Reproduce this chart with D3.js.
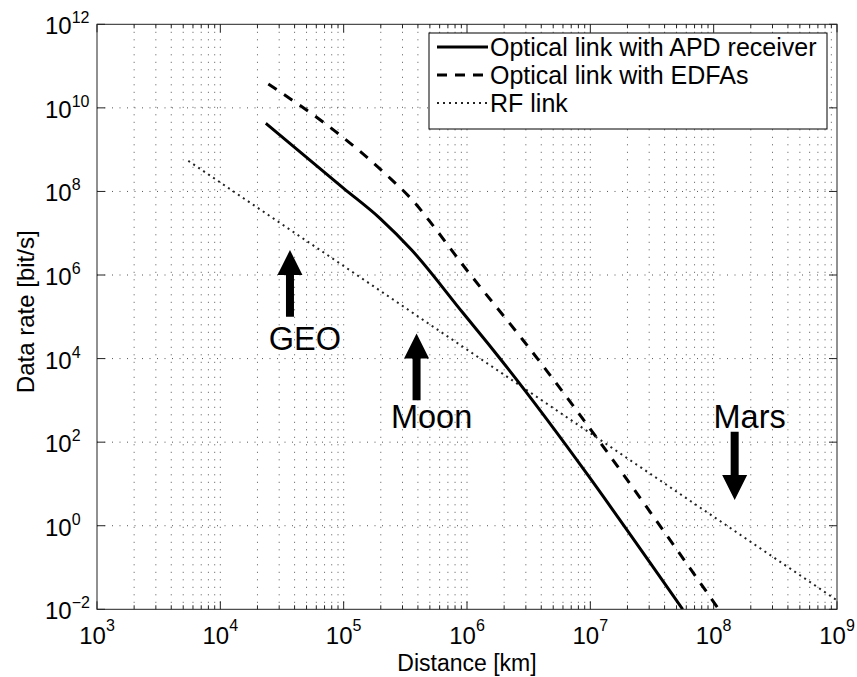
<!DOCTYPE html>
<html><head><meta charset="utf-8">
<script src="https://cdn.jsdelivr.net/npm/d3@7"></script>
<style>body{margin:0;background:#fff}svg{display:block}</style>
</head><body><svg id="c" width="857" height="677"></svg>
<script>
// ---- data ----
const apdDistance  = [2.34e4, 1e5, 1.97e5, 3.56e5, 9.29e5, 1.63e6, 5.61e7];
const apdRate      = [4.28e9, 1.19e8, 2.28e7, 3.97e6, 1.23e5, 1.61e4, 1e-2];
const edfaDistance = [2.45e4, 9.33e4, 2.23e5, 3.91e5, 5.01e5, 9.95e5, 2.84e6, 1.10e8];
const edfaRate     = [3.72e10, 2.24e9, 2.48e8, 4.74e7, 1.89e7, 1.32e6, 2.79e4, 1e-2];
const rfDistance   = [5.5e3, 1e5, 1e6, 1e7, 1e8, 1e9];
const rfRate       = [5.4e8, 1.64e6, 1.64e4, 1.64e2, 1.64, 1.64e-2];
const seriesNames  = ["Optical link with APD receiver", "Optical link with EDFAs", "RF link"];
const xTickExp     = [3, 4, 5, 6, 7, 8, 9];
const yTickExp     = [12, 10, 8, 6, 4, 2, 0, -2];
const markLabels   = ["GEO", "Moon", "Mars"];
const markDistance = [3.67e4, 3.9e5, 1.48e8];
const markTail     = [1e5, 1.0e3, 1.78e2];
const markTip      = [3.97e6, 4.0e4, 4.1];
const markTextRate = [1.6e4, 2.2e2, 2.2e2];

// ---- layout ----
const L = 97, R = 837, T = 24.3, B = 609.3;
const FONT = "'Liberation Sans', Arial, Helvetica, sans-serif";
const svg = d3.select("#c").style("font-family", FONT);
const x = d3.scaleLog().domain([1e3, 1e9]).range([L, R]);
const y = d3.scaleLog().domain([1e-2, 1e12]).range([B, T]);

svg.append("rect").attr("width", 857).attr("height", 677).attr("fill", "#fff");

// grid
const grid = svg.append("g").attr("stroke", "#555").attr("stroke-width", 1)
  .attr("stroke-dasharray", "1,6.5").attr("fill", "none");
const vGrid = [];
for (let e = 3; e < 9; e++) for (let m = 1; m < 10; m++) vGrid.push(m * Math.pow(10, e));
vGrid.push(1e9);
vGrid.filter(v => v > 1e3 && v < 1e9).forEach(v => {
  grid.append("line").attr("x1", x(v)).attr("x2", x(v)).attr("y1", T).attr("y2", B);
});
yTickExp.filter(e => e > -2 && e < 12).forEach(e => {
  const v = Math.pow(10, e);
  grid.append("line").attr("x1", L).attr("x2", R).attr("y1", y(v)).attr("y2", y(v));
});

// ticks (inward, on all four sides)
const ticks = svg.append("g").attr("stroke", "#222").attr("stroke-width", 1);
vGrid.forEach(v => {
  const major = Math.abs(Math.log10(v) - Math.round(Math.log10(v))) < 1e-9;
  const len = major ? 8 : 4;
  ticks.append("line").attr("x1", x(v)).attr("x2", x(v)).attr("y1", B).attr("y2", B - len);
  ticks.append("line").attr("x1", x(v)).attr("x2", x(v)).attr("y1", T).attr("y2", T + len);
});
yTickExp.forEach(e => {
  const v = Math.pow(10, e);
  ticks.append("line").attr("x1", L).attr("x2", L + 8).attr("y1", y(v)).attr("y2", y(v));
  ticks.append("line").attr("x1", R).attr("x2", R - 8).attr("y1", y(v)).attr("y2", y(v));
});

// tick labels
const fmtExp = e => (e < 0 ? "\u2212" + (-e) : String(e));
xTickExp.forEach(e => {
  const t = svg.append("text").attr("x", x(Math.pow(10, e))).attr("y", 644)
    .attr("text-anchor", "middle").attr("font-size", 24).attr("fill", "#000");
  t.append("tspan").text("10");
  t.append("tspan").attr("dy", -13).attr("font-size", 16).text(fmtExp(e));
});
yTickExp.forEach(e => {
  const yy = y(Math.pow(10, e));
  const t = svg.append("text").attr("x", 45).attr("y", yy + 10)
    .attr("font-size", 24).attr("fill", "#000");
  t.append("tspan").text("10");
  t.append("tspan").attr("dy", -11).attr("font-size", 16).text(fmtExp(e));
});

// axis titles
svg.append("text").attr("x", (L + R) / 2).attr("y", 671).attr("text-anchor", "middle")
  .attr("font-size", 23).text("Distance [km]");
svg.append("text").attr("transform", `translate(34,${(T + B) / 2 - 5}) rotate(-90)`)
  .attr("text-anchor", "middle").attr("font-size", 24).text("Data rate [bit/s]");

// clip
svg.append("clipPath").attr("id", "clip").append("rect")
  .attr("x", L).attr("y", T).attr("width", R - L).attr("height", B - T);

const line = d3.line().x(d => x(d[0])).y(d => y(d[1])).curve(d3.curveMonotoneX);
const plot = svg.append("g").attr("clip-path", "url(#clip)").attr("fill", "none").attr("stroke", "#000");
plot.append("path").datum(d3.zip(rfDistance, rfRate)).attr("d", line)
  .attr("stroke", "#222").attr("stroke-width", 2).attr("stroke-dasharray", "2,4");
plot.append("path").datum(d3.zip(edfaDistance, edfaRate)).attr("d", line)
  .attr("stroke-width", 3).attr("stroke-dasharray", "10,9");
plot.append("path").datum(d3.zip(apdDistance, apdRate)).attr("d", line)
  .attr("stroke-width", 3);

// annotations (arrows + labels)
markLabels.forEach((lab, i) => {
  const ax = x(markDistance[i]);
  const yTip = y(markTip[i]), yTail = y(markTail[i]);
  const dir = yTip < yTail ? 1 : -1; // 1 = arrow up
  const headLen = 25, headHalf = 12.5, shaftHalf = 4;
  const yBase = yTip + dir * headLen;
  const pts = [
    [ax, yTip], [ax + headHalf, yBase], [ax + shaftHalf, yBase], [ax + shaftHalf, yTail],
    [ax - shaftHalf, yTail], [ax - shaftHalf, yBase], [ax - headHalf, yBase]
  ];
  svg.append("polygon").attr("points", pts.map(p => p.join(",")).join(" ")).attr("fill", "#000");
  svg.append("text").attr("x", ax + 15).attr("y", y(markTextRate[i]))
    .attr("text-anchor", "middle").attr("font-size", 32.5).text(lab);
});

// axes box
svg.append("rect").attr("x", L).attr("y", T).attr("width", R - L).attr("height", B - T)
  .attr("fill", "none").attr("stroke", "#222").attr("stroke-width", 1);

// legend
const lg = svg.append("g");
lg.append("rect").attr("x", 429).attr("y", 33).attr("width", 398).attr("height", 96)
  .attr("fill", "#fff").attr("stroke", "#000").attr("stroke-width", 1);
const styles = [
  {w: 3, dash: null, c: "#000"},
  {w: 3, dash: "10,8", c: "#000"},
  {w: 2, dash: "2,4", c: "#222"}
];
seriesNames.forEach((name, i) => {
  const yy = 47 + i * 28;
  const l = lg.append("line").attr("x1", 437).attr("x2", 488).attr("y1", yy).attr("y2", yy)
    .attr("stroke", styles[i].c).attr("stroke-width", styles[i].w);
  if (styles[i].dash) l.attr("stroke-dasharray", styles[i].dash);
  lg.append("text").attr("x", 490).attr("y", yy + 9).attr("font-size", 25).text(name);
});
</script></body></html>
